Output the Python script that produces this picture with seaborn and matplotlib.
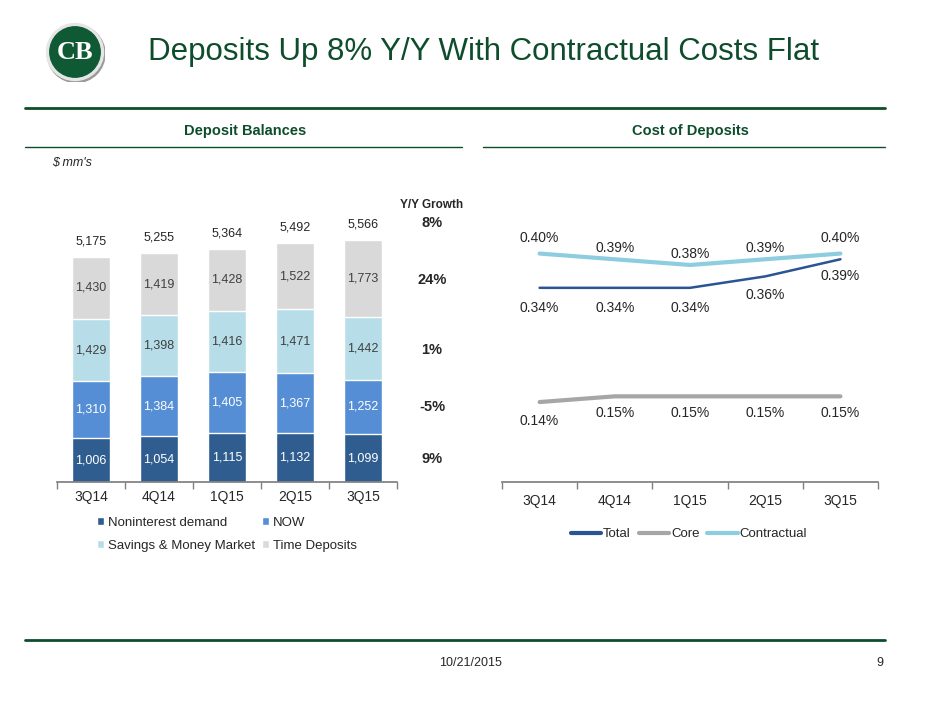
import pandas as pd
import matplotlib.pyplot as plt
import seaborn as sns
import numpy as np
from matplotlib.patches import Circle

# Data
quarters = ['3Q14', '4Q14', '1Q15', '2Q15', '3Q15']
noninterest = [1006, 1054, 1115, 1132, 1099]
now = [1310, 1384, 1405, 1367, 1252]
savings = [1429, 1398, 1416, 1471, 1442]
time_dep = [1430, 1419, 1428, 1522, 1773]
totals = [5175, 5255, 5364, 5492, 5566]
growth = ['8%', '24%', '1%', '-5%', '9%']

cost_total = [0.34, 0.34, 0.34, 0.36, 0.39]
cost_core = [0.14, 0.15, 0.15, 0.15, 0.15]
cost_contractual = [0.40, 0.39, 0.38, 0.39, 0.40]

series_names = ['Noninterest demand', 'NOW', 'Savings & Money Market', 'Time Deposits']
bar_colors = ['#2F5D8F', '#558ED5', '#B7DEE8', '#D9D9D9']
line_colors = {'Total': '#2A5494', 'Core': '#A6A6A6', 'Contractual': '#8DCDDF'}
green = '#0E4D2C'

sns.set_theme(style='white')
plt.rcParams['font.family'] = ['Liberation Sans', 'DejaVu Sans']

W, H = 940, 705
fig = plt.figure(figsize=(W / 100, H / 100), dpi=100)


def box(x0, y0, x1, y1):
    # pixel box (top-left origin) -> figure fraction rect
    return [x0 / W, 1 - y1 / H, (x1 - x0) / W, (y1 - y0) / H]


def fx(x):
    return x / W


def fy(y):
    return 1 - y / H


# header
fig.text(fx(148), fy(52), 'Deposits Up 8% Y/Y With Contractual Costs Flat', color=green,
         fontsize=22.5, va='center', ha='left')
logo = fig.add_axes(box(45, 22, 105, 82))
logo.set_xlim(-1, 1)
logo.set_ylim(-1, 1)
logo.set_aspect('equal')
logo.axis('off')
logo.add_patch(Circle((0.04, -0.06), 0.96, color='#9A9A9A'))
logo.add_patch(Circle((0, 0), 0.95, color='#E6E6E6'))
logo.add_patch(Circle((0, 0), 0.84, color='#0F5A34'))
logo.text(0, -0.02, 'CB', color='white', fontsize=19, ha='center', va='center',
          family=['Liberation Serif', 'DejaVu Serif'], fontweight='bold')

lines = fig.add_axes([0, 0, 1, 1], zorder=-1)
lines.set_xlim(0, W)
lines.set_ylim(H, 0)
lines.axis('off')
lines.plot([25, 885], [108, 108], color=green, lw=2)
lines.plot([25, 462], [147, 147], color=green, lw=1)
lines.plot([483, 885], [147, 147], color=green, lw=1)
lines.plot([25, 885], [640, 640], color=green, lw=2)

fig.text(fx(245), fy(131), 'Deposit Balances', color=green, fontsize=10.5, fontweight='bold',
         ha='center', va='center')
fig.text(fx(690), fy(131), 'Cost of Deposits', color=green, fontsize=10.5, fontweight='bold',
         ha='center', va='center')
fig.text(fx(52), fy(163), "$ mm's", fontsize=9, style='italic', ha='left', va='center')
fig.text(fx(470), fy(663), '10/21/2015', fontsize=9, ha='center', va='center')
fig.text(fx(880), fy(663), '9', fontsize=9, ha='center', va='center')

# stacked bars
ax = fig.add_axes(box(57, 221, 397, 482))
stack = np.array([noninterest, now, savings, time_dep])
cum = stack.cumsum(axis=0)
for i in range(3, -1, -1):
    df = pd.DataFrame({'quarter': quarters, 'value': cum[i]})
    sns.barplot(data=df, x='quarter', y='value', color=bar_colors[i], saturation=1,
                width=0.56, ax=ax, label=series_names[i])
handles, labels = ax.get_legend_handles_labels()
if ax.get_legend() is not None:
    ax.get_legend().remove()
ax.set_ylim(0, 6000)
ax.set_xlim(-0.5, 4.5)
ax.set_xlabel('')
ax.set_ylabel('')
ax.set_yticks([])
for s in ['top', 'right', 'left']:
    ax.spines[s].set_visible(False)
ax.spines['bottom'].set_color('#808080')
ax.set_xticks(np.arange(-0.5, 5, 1), minor=True)
ax.tick_params(axis='x', which='minor', length=5, color='#808080', bottom=True)
ax.tick_params(axis='x', which='major', length=0, labelsize=10, pad=6)
for i in range(4):
    for j, q in enumerate(quarters):
        mid = cum[i][j] - stack[i][j] / 2
        ax.text(j, mid, f'{stack[i][j]:,}', ha='center', va='center', fontsize=9,
                color='white' if i < 2 else '#404040')
for j in range(5):
    ax.text(j, totals[j] + 360, f'{totals[j]:,}', ha='center', va='center', fontsize=9,
            color='#262626')

# legend fills column-wise: row 1 = Noninterest, NOW; row 2 = Savings, Time
leg_order = ['Noninterest demand', 'Savings & Money Market', 'NOW', 'Time Deposits']
fig.legend([handles[labels.index(n)] for n in leg_order], leg_order, ncol=2, loc='upper left',
           bbox_to_anchor=(fx(97), fy(517)), frameon=False, fontsize=9.5,
           handlelength=0.55, handleheight=0.55, handletextpad=0.3,
           columnspacing=0.5, labelspacing=0.8, borderaxespad=0, borderpad=0)

fig.text(fx(432), fy(205), 'Y/Y Growth', fontsize=8.5, fontweight='bold', ha='center', va='center')
growth_y = [223, 280, 350, 407, 459]
for g, gy in zip(growth, growth_y):
    fig.text(fx(432), fy(gy), g, fontsize=10.5, fontweight='bold', ha='center', va='center')

# cost lines
ax2 = fig.add_axes(box(502, 225, 878, 482))
cost = pd.DataFrame({
    'quarter': quarters * 3,
    'value': cost_total + cost_core + cost_contractual,
    'series': ['Total'] * 5 + ['Core'] * 5 + ['Contractual'] * 5,
})
cost['pos'] = list(range(5)) * 3
sns.lineplot(data=cost, x='pos', y='value', hue='series', palette=line_colors,
             ax=ax2, linewidth=3)
ax2.lines[0].set_linewidth(1.8)
ax2.set_xlim(-0.5, 4.5)
ax2.set_ylim(0, 0.45)
ax2.set_xlabel('')
ax2.set_ylabel('')
ax2.set_yticks([])
ax2.set_xticks(range(5))
ax2.set_xticklabels(quarters)
for s in ['top', 'right', 'left']:
    ax2.spines[s].set_visible(False)
ax2.spines['bottom'].set_color('#808080')
ax2.set_xticks(np.arange(-0.5, 5, 1), minor=True)
ax2.tick_params(axis='x', which='minor', length=5, color='#808080', bottom=True)
ax2.tick_params(axis='x', which='major', length=0, labelsize=10, pad=9)

contr_off = [0.028, 0.02, 0.02, 0.02, 0.028]
total_off = [-0.036, -0.036, -0.036, -0.033, -0.03]
core_off = [-0.033, -0.03, -0.03, -0.03, -0.03]
for j in range(5):
    ax2.text(j, cost_contractual[j] + contr_off[j], f'{cost_contractual[j]:.2f}%', ha='center',
             va='center', fontsize=10, color='#262626')
    ax2.text(j, cost_total[j] + total_off[j], f'{cost_total[j]:.2f}%', ha='center',
             va='center', fontsize=10, color='#262626')
    ax2.text(j, cost_core[j] + core_off[j], f'{cost_core[j]:.2f}%', ha='center',
             va='center', fontsize=10, color='#262626')

h2, l2 = ax2.get_legend_handles_labels()
ax2.get_legend().remove()
names2 = ['Total', 'Core', 'Contractual']
fig.legend([h2[l2.index(n)] for n in names2], names2, ncol=3, loc='center',
           bbox_to_anchor=(fx(689), fy(534)), frameon=False, fontsize=9.5,
           handlelength=2.3, handletextpad=0.15, columnspacing=0.6)

fig.savefig('out.png', dpi=100)
